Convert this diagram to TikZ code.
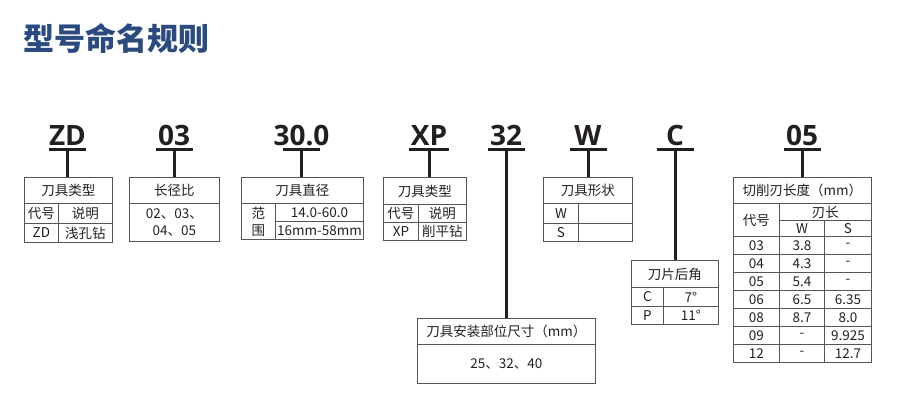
\documentclass[tikz,border=0pt]{standalone}
\usepackage{fontspec}
\setmainfont{Noto Sans CJK SC}
\newfontfamily\codefont{Open Sans}
\newfontfamily\headfont{Noto Sans CJK SC Black}
\definecolor{titleblue}{HTML}{2B4A80}
\definecolor{gridgray}{HTML}{555555}
\definecolor{barblack}{HTML}{231F20}

\begin{document}
\begin{tikzpicture}[x=1pt, y=-1pt,
    heading/.style ={anchor=west, inner sep=0pt, text=titleblue,
      font=\headfont\fontsize{31}{33}\selectfont},
    code/.style ={anchor=base, inner sep=0pt, text=barblack,
      font=\codefont\fontsize{28}{30}\selectfont\bfseries},
    bar/.style ={line width=3pt, draw=barblack},
    cell/.style ={draw=gridgray, line width=0.9pt, anchor=north west,
      inner sep=0pt, align=center, text=barblack,
      font=\fontsize{13.5}{17}\selectfont}]
   \useasboundingbox (0,0) rectangle (898,405);
   \node[heading] (T) at (23,38) {型号命名规则};
   % codes
   \node[code] (ZD) at (67.5,145) {ZD};
   \node[code] (N03) at (174,145) {03};
   \node[code] (D30) at (301.5,145) {30.0};
   \node[code] (XP) at (429,145) {XP};
   \node[code] (N32) at (506,145) {32};
   \node[code] (W) at (588,145) {W};
   \node[code] (C) at (675,145) {C};
   \node[code] (N05) at (802,145) {05};
   \coordinate (ZDu) at ([yshift=-4pt]ZD.base);
   \coordinate (N03u) at ([yshift=-4pt]N03.base);
   \coordinate (D30u) at ([yshift=-4pt]D30.base);
   \coordinate (XPu) at ([yshift=-4pt]XP.base);
   \coordinate (N32u) at ([yshift=-4pt]N32.base);
   \coordinate (Wu) at ([yshift=-4pt]W.base);
   \coordinate (Cu) at ([yshift=-4pt]C.base);
   \coordinate (N05u) at ([yshift=-4pt]N05.base);
   % ZD table
   \node[cell, minimum width=88pt, minimum height=26pt] (ZDt) at (24,177) {刀具类型};
   \node[cell, minimum width=34pt, minimum height=20pt] (ZDa) at (24,203) {代号};
   \node[cell, minimum width=54pt, minimum height=20pt] (ZDb) at (58,203) {说明};
   \node[cell, minimum width=34pt, minimum height=19pt] (ZDc) at (24,223) {ZD};
   \node[cell, minimum width=54pt, minimum height=19pt] (ZDd) at (58,223) {浅孔钻};
   % 03 table
   \node[cell, minimum width=90pt, minimum height=26pt] (N03t) at (129,177) {长径比};
   \node[cell, minimum width=90pt, minimum height=38pt] (N03a) at (129,203) {02、03、\\04、05};
   % 30.0 table
   \node[cell, minimum width=122pt, minimum height=26pt] (D30t) at (241,177) {刀具直径};
   \node[cell, minimum width=34pt, minimum height=36pt] (D30a) at (241,203) {范\\围};
   \node[cell, minimum width=88pt, minimum height=18pt] (D30b) at (275,203) {14.0-60.0};
   \node[cell, minimum width=88pt, minimum height=18pt] (D30c) at (275,221) {16mm-58mm};
   % XP table
   \node[cell, minimum width=83pt, minimum height=27pt] (XPt) at (383,177) {刀具类型};
   \node[cell, minimum width=35pt, minimum height=18pt] (XPa) at (383,204) {代号};
   \node[cell, minimum width=48pt, minimum height=18pt] (XPb) at (418,204) {说明};
   \node[cell, minimum width=35pt, minimum height=18pt] (XPc) at (383,222) {XP};
   \node[cell, minimum width=48pt, minimum height=18pt] (XPd) at (418,222) {削平钻};
   % 32 table
   \node[cell, minimum width=178pt, minimum height=26pt] (N32t) at (417,318) {刀具安装部位尺寸（mm）};
   \node[cell, minimum width=178pt, minimum height=39pt] (N32a) at (417,344) {25、32、40};
   % W table
   \node[cell, minimum width=89pt, minimum height=26pt] (Wt) at (543,177) {刀具形状};
   \node[cell, minimum width=35pt, minimum height=20pt] (Wa) at (543,203) {W};
   \node[cell, minimum width=54pt, minimum height=20pt] (Wb) at (578,203) {};
   \node[cell, minimum width=35pt, minimum height=18pt] (Wc) at (543,223) {S};
   \node[cell, minimum width=54pt, minimum height=18pt] (Wd) at (578,223) {};
   % C table
   \node[cell, minimum width=87pt, minimum height=27pt] (Ct) at (631,260) {刀片后角};
   \node[cell, minimum width=32pt, minimum height=19pt] (Ca) at (631,287) {C};
   \node[cell, minimum width=55pt, minimum height=19pt] (Cb) at (663,287) {7°};
   \node[cell, minimum width=32pt, minimum height=18pt] (Cc) at (631,306) {P};
   \node[cell, minimum width=55pt, minimum height=18pt] (Cd) at (663,306) {11°};
   % 05 table
   \node[cell, minimum width=138pt, minimum height=26pt] (N05t) at (733,177) {切削刃长度（mm）};
   \node[cell, minimum width=46pt, minimum height=33pt] (N05a) at (733,203) {代号};
   \node[cell, minimum width=92pt, minimum height=17pt] (N05b) at (779,203) {刃长};
   \node[cell, minimum width=45pt, minimum height=16pt] (N05c) at (779,220) {W};
   \node[cell, minimum width=47pt, minimum height=16pt] (N05d) at (824,220) {S};
   \node[cell, minimum width=46pt, minimum height=18pt] (R1a) at (733,236) {03};
   \node[cell, minimum width=45pt, minimum height=18pt] (R1b) at (779,236) {3.8};
   \node[cell, minimum width=47pt, minimum height=18pt] (R1c) at (824,236) {-};
   \node[cell, minimum width=46pt, minimum height=18pt] (R2a) at (733,254) {04};
   \node[cell, minimum width=45pt, minimum height=18pt] (R2b) at (779,254) {4.3};
   \node[cell, minimum width=47pt, minimum height=18pt] (R2c) at (824,254) {-};
   \node[cell, minimum width=46pt, minimum height=18pt] (R3a) at (733,272) {05};
   \node[cell, minimum width=45pt, minimum height=18pt] (R3b) at (779,272) {5.4};
   \node[cell, minimum width=47pt, minimum height=18pt] (R3c) at (824,272) {-};
   \node[cell, minimum width=46pt, minimum height=18pt] (R4a) at (733,290) {06};
   \node[cell, minimum width=45pt, minimum height=18pt] (R4b) at (779,290) {6.5};
   \node[cell, minimum width=47pt, minimum height=18pt] (R4c) at (824,290) {6.35};
   \node[cell, minimum width=46pt, minimum height=18pt] (R5a) at (733,308) {08};
   \node[cell, minimum width=45pt, minimum height=18pt] (R5b) at (779,308) {8.7};
   \node[cell, minimum width=47pt, minimum height=18pt] (R5c) at (824,308) {8.0};
   \node[cell, minimum width=46pt, minimum height=18pt] (R6a) at (733,326) {09};
   \node[cell, minimum width=45pt, minimum height=18pt] (R6b) at (779,326) {-};
   \node[cell, minimum width=47pt, minimum height=18pt] (R6c) at (824,326) {9.925};
   \node[cell, minimum width=46pt, minimum height=18pt] (R7a) at (733,344) {12};
   \node[cell, minimum width=45pt, minimum height=18pt] (R7b) at (779,344) {-};
   \node[cell, minimum width=47pt, minimum height=18pt] (R7c) at (824,344) {12.7};
   % underlines and stems
   \draw[bar] ([xshift=-18.5pt]ZDu) -- ([xshift=18.5pt]ZDu);
   \draw[bar] ([xshift=-18.5pt]N03u) -- ([xshift=18.5pt]N03u);
   \draw[bar] ([xshift=-18.5pt]D30u) -- ([xshift=18.5pt]D30u);
   \draw[bar] ([xshift=-20pt]XPu) -- ([xshift=20pt]XPu);
   \draw[bar] ([xshift=-18.5pt]N32u) -- ([xshift=18.5pt]N32u);
   \draw[bar] ([xshift=-18.5pt]Wu) -- ([xshift=18.5pt]Wu);
   \draw[bar] ([xshift=-18.5pt]Cu) -- ([xshift=18.5pt]Cu);
   \draw[bar] ([xshift=-18.5pt]N05u) -- ([xshift=18.5pt]N05u);
   \draw[bar] (ZDu) -- (ZDu |- ZDt.north);
   \draw[bar] (N03u) -- (N03u |- N03t.north);
   \draw[bar] (D30u) -- (D30u |- D30t.north);
   \draw[bar] (XPu) -- (XPu |- XPt.north);
   \draw[bar] (N32u) -- (N32u |- N32t.north);
   \draw[bar] (Wu) -- (Wu |- Wt.north);
   \draw[bar] (Cu) -- (Cu |- Ct.north);
   \draw[bar] (N05u) -- (N05u |- N05t.north);
\end{tikzpicture}
\end{document}
